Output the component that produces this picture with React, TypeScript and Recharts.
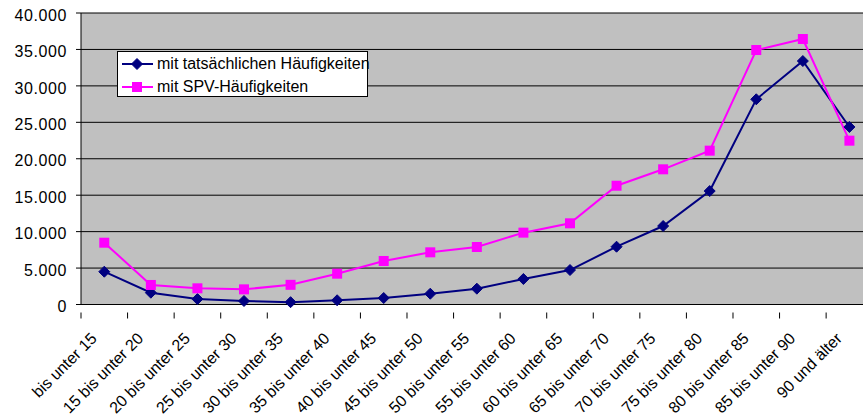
import React from 'react';
import { LineChart, Line, XAxis, YAxis, CartesianGrid } from 'recharts';

const ageGroups = [
  'bis unter 15',
  '15 bis unter 20',
  '20 bis unter 25',
  '25 bis unter 30',
  '30 bis unter 35',
  '35 bis unter 40',
  '40 bis unter 45',
  '45 bis unter 50',
  '50 bis unter 55',
  '55 bis unter 60',
  '60 bis unter 65',
  '65 bis unter 70',
  '70 bis unter 75',
  '75 bis unter 80',
  '80 bis unter 85',
  '85 bis unter 90',
  '90 und älter',
];

const actualCounts = [
  4500, 1620, 750, 480, 320, 580, 890, 1480, 2170, 3500, 4730, 7930, 10770, 15570, 28160, 33410, 24360,
];

const spvCounts = [
  8480, 2680, 2220, 2080, 2700, 4230, 5970, 7160, 7890, 9860, 11140, 16300, 18550, 21110, 34920, 36430, 22480,
];

const yTicks = [0, 5000, 10000, 15000, 20000, 25000, 30000, 35000, 40000];

const SERIES_ACTUAL = 'mit tatsächlichen Häufigkeiten';
const SERIES_SPV = 'mit SPV-Häufigkeiten';

const NAVY = '#000080';
const MAGENTA = '#FF00FF';
const FONT = '"Liberation Sans", Arial, sans-serif';

const CHART_W = 880;
const CHART_H = 419;
const PLOT_LEFT = 81;
const PLOT_RIGHT = 872.7;
const PLOT_TOP = 13;
const PLOT_H = 291.5;
const X_AXIS_H = 114.5;
const BAND = (PLOT_RIGHT - PLOT_LEFT) / ageGroups.length;

const data = ageGroups.map((name, i) => ({
  name,
  [SERIES_ACTUAL]: actualCounts[i],
  [SERIES_SPV]: spvCounts[i],
}));

const formatThousands = (v: number) => String(v).replace(/\B(?=(\d{3})+(?!\d))/g, '.');

const Diamond = ({ cx, cy, r = 5.5 }: { cx: number; cy: number; r?: number }) => (
  <path d={`M${cx},${cy - r} L${cx + r},${cy} L${cx},${cy + r} L${cx - r},${cy} Z`} fill={NAVY} stroke={NAVY} strokeWidth={1} />
);

const Square = ({ cx, cy, s = 10 }: { cx: number; cy: number; s?: number }) => (
  <rect x={cx - s / 2} y={cy - s / 2} width={s} height={s} fill={MAGENTA} />
);

// category label rotated 45°, plus tick marks on the band boundaries
const AgeTick = (props: any) => {
  const { x, y, payload, index } = props;
  const last = index === ageGroups.length - 1;
  return (
    <g>
      <line x1={x - BAND / 2} y1={y} x2={x - BAND / 2} y2={y + 6} stroke="#000" />
      {last && <line x1={x + BAND / 2} y1={y} x2={x + BAND / 2} y2={y + 6} stroke="#000" />}
      <text
        transform={`translate(${x - 6.5},${y + 27}) rotate(-45)`}
        textAnchor="end"
        fontFamily={FONT}
        fontSize={16}
        fill="#000"
      >
        {payload.value}
      </text>
    </g>
  );
};

const legendItems = [
  { label: SERIES_ACTUAL, color: NAVY, marker: 'diamond' },
  { label: SERIES_SPV, color: MAGENTA, marker: 'square' },
];

const LegendBox = () => (
  <div
    style={{
      position: 'absolute',
      left: 117,
      top: 51,
      width: 249,
      height: 44,
      border: '1px solid #000',
      background: '#fff',
      fontFamily: FONT,
      fontSize: 16,
      color: '#000',
    }}
  >
    {legendItems.map((item, i) => (
      <div key={item.label} style={{ position: 'absolute', left: 3, top: i === 0 ? 2 : 24.5, height: 20, display: 'flex', alignItems: 'center' }}>
        <svg width={32} height={20} style={{ display: 'block' }}>
          <line x1={1} y1={10} x2={32} y2={10} stroke={item.color} strokeWidth={2} />
          {item.marker === 'diamond' ? <Diamond cx={16} cy={10} /> : <Square cx={16} cy={10} />}
        </svg>
        <span style={{ marginLeft: 4, whiteSpace: 'nowrap', lineHeight: '20px' }}>{item.label}</span>
      </div>
    ))}
  </div>
);

export default function App() {
  return (
    <div style={{ position: 'fixed', left: 0, top: 0, width: 863, height: 419, overflow: 'hidden', background: '#fff' }}>
      <LineChart
        width={CHART_W}
        height={CHART_H}
        data={data}
        margin={{ top: PLOT_TOP, right: CHART_W - PLOT_RIGHT, left: 0, bottom: CHART_H - PLOT_TOP - PLOT_H - X_AXIS_H }}
      >
        <CartesianGrid vertical={false} fill="#C0C0C0" stroke="#000" strokeOpacity={1} horizontalValues={yTicks} />
        <XAxis
          dataKey="name"
          interval={0}
          height={X_AXIS_H}
          padding={{ left: BAND / 2, right: BAND / 2 }}
          tickLine={false}
          axisLine={{ stroke: '#000' }}
          tick={<AgeTick />}
        />
        <YAxis
          width={PLOT_LEFT}
          domain={[0, 40000]}
          ticks={yTicks}
          interval={0}
          tickSize={5}
          tickMargin={9}
          tickFormatter={formatThousands}
          axisLine={{ stroke: '#000' }}
          tickLine={{ stroke: '#000' }}
          tick={{ fill: '#000', fontFamily: FONT, fontSize: 16, letterSpacing: 0.6, dy: 2 }}
        />
        <Line
          type="linear"
          dataKey={SERIES_ACTUAL}
          stroke={NAVY}
          strokeWidth={2}
          isAnimationActive={false}
          dot={(p: any) => <Diamond key={`a-${p.index}`} cx={p.cx} cy={p.cy} />}
          activeDot={false}
        />
        <Line
          type="linear"
          dataKey={SERIES_SPV}
          stroke={MAGENTA}
          strokeWidth={2}
          isAnimationActive={false}
          dot={(p: any) => <Square key={`s-${p.index}`} cx={p.cx} cy={p.cy} />}
          activeDot={false}
        />
      </LineChart>
      <LegendBox />
    </div>
  );
}
